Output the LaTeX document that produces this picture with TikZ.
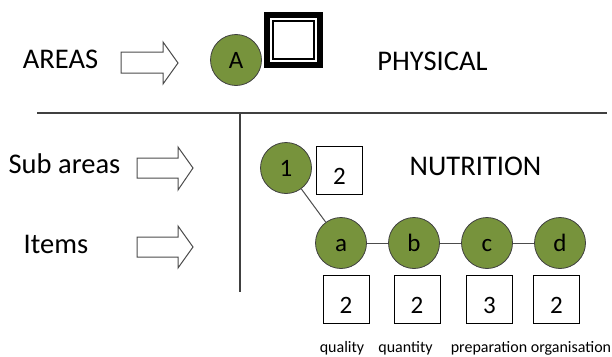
\documentclass[tikz,border=0pt]{standalone}
\usepackage{fontspec}
\setmainfont{Carlito}
\definecolor{leafgreen}{HTML}{77933C}
\definecolor{rulegray}{HTML}{404040}
\begin{document}
\begin{tikzpicture}[x=1pt,y=-1pt,
  leaf/.style={circle, fill=leafgreen, draw=black!75, line width=0.8pt,
    minimum size=51pt, inner sep=0pt, font=\fontsize{25}{30}\selectfont,
    text height=16.1pt, text depth=0pt},
  numbox/.style={rectangle, draw=black, line width=1pt, fill=white,
    minimum width=46pt, minimum height=48pt, inner sep=0pt,
    font=\fontsize{25}{30}\selectfont, text height=28pt, text depth=0pt},
  biglabel/.style={anchor=base, inner sep=0pt, font=\fontsize{28.5}{32}\selectfont},
  smalllabel/.style={anchor=base, inner sep=0pt, font=\fontsize{16}{18}\selectfont},
  blockarrow/.style={draw=black!70, line width=1pt, fill=white, line join=miter},
  link/.style={draw=black!70, line width=1pt},
  divider/.style={draw=rulegray, line width=1.6pt}]
\useasboundingbox (0,0) rectangle (612,356);

% left labels
\node[biglabel] (areas) at (60.5,68) {AREAS};
\node[biglabel] (subareas) at (64.5,173) {Sub areas};
\node[biglabel] (items) at (56,253) {Items};

% block arrows
\draw[blockarrow] (121,52) -- (163,52) -- (163,42) -- (178,63) -- (163,84) -- (163,73) -- (121,73) -- cycle;
\draw[blockarrow] (137,158) -- (178,158) -- (178,147) -- (193,168) -- (178,190) -- (178,178) -- (137,178) -- cycle;
\draw[blockarrow] (137,237) -- (178,237) -- (178,226) -- (193,247) -- (178,268) -- (178,257) -- (137,257) -- cycle;

% top area
\node[leaf] (A) at (236,60) {A};
\draw[line width=6pt] (267,15) rectangle (320,65);
\draw[line width=2pt] (273,21) rectangle (314,59);
\node[biglabel] (physical) at (432.5,70) {PHYSICAL};

% dividers
\coordinate (hl) at (37,113);
\coordinate (hr) at (607,113);
\coordinate (vt) at (240,113);
\coordinate (vb) at (240,292);
\draw[divider] (hl) -- (hr);
\draw[divider] (vt) -- (vb);

% sub area
\node[leaf] (one) at (286,168) {1};
\node[numbox] (onebox) at (339.5,170) {2};
\node[biglabel] (nutrition) at (475.5,175) {NUTRITION};

% items
\node[leaf] (a) at (341,243) {a};
\node[leaf] (b) at (414,243) {b};
\node[leaf] (c) at (487,243) {c};
\node[leaf] (d) at (560,243) {d};
\draw[link] (one) -- (a);
\draw[link] (a) -- (b);
\draw[link] (b) -- (c);
\draw[link] (c) -- (d);

\node[numbox] (abox) at (346,299) {2};
\node[numbox] (bbox) at (417,299) {2};
\node[numbox] (cbox) at (489.5,299) {3};
\node[numbox] (dbox) at (556.5,299) {2};

\node[smalllabel] (quality) at (342,352) {quality};
\node[smalllabel] (quantity) at (405.5,352) {quantity};
\node[smalllabel] (preparation) at (489,352) {preparation};
\node[smalllabel] (organisation) at (571,352) {organisation};
\end{tikzpicture}
\end{document}
